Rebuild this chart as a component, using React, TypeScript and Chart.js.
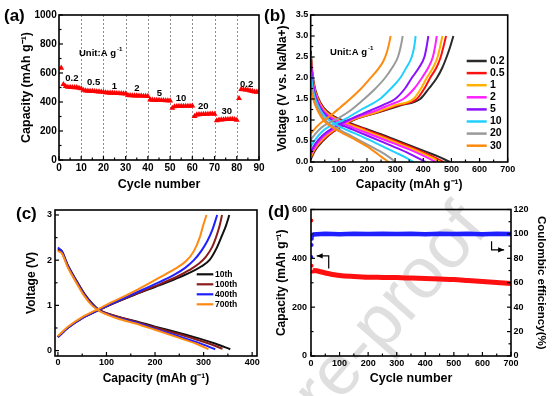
import React, { useEffect, useRef } from 'react';
import { Chart, registerables } from 'chart.js';

Chart.register(...registerables);

const FONT = "'Liberation Sans', Arial, Helvetica, sans-serif";

// ---------------- (a) rate performance ----------------
const rateCapacity = [
  635, 522, 508, 503, 502, 501, 500, 500, 496, 492,
  482, 478, 476, 475, 474, 473, 472, 471, 470, 468,
  465, 463, 462, 462, 461, 460, 460, 459, 458, 457,
  447, 445, 444, 443, 443, 442, 442, 441, 441, 440,
  416, 414, 413, 412, 412, 411, 411, 410, 410, 409,
  358, 368, 370, 371, 371, 372, 372, 372, 372, 373,
  302, 312, 314, 315, 316, 317, 317, 318, 318, 317,
  272, 277, 278, 279, 280, 280, 281, 281, 280, 275,
  425, 488, 486, 485, 482, 478, 474, 470, 469, 472,
];
const rateCycles = rateCapacity.map((_, i) => i + 1);
const rateNames = ['0.2', '0.5', '1', '2', '5', '10', '20', '30', '0.2'];
const rateNameX = [5.8, 15.6, 24.9, 35, 45.2, 54.9, 64.9, 75.5, 84.4];
const rateNameY = [560, 535, 510, 492, 462, 423, 372, 335, 525];
const rateBoundaries = [10, 20, 30, 40, 50, 60, 70, 80];
const aXTicks = [0, 10, 20, 30, 40, 50, 60, 70, 80, 90];
const aYTicks = [0, 200, 400, 600, 800, 1000];

// ---------------- (b) voltage profiles at different rates ----------------
const bRates = ['0.2', '0.5', '1', '2', '5', '10', '20', '30'];
const bColors = ['#2a2a2a', '#ff1010', '#ffb000', '#ff20ff', '#8a10ff', '#20d0ff', '#9a9a9a', '#ff8a10'];
const chg02 = [[0,0.06],[15,0.27],[40,0.48],[80,0.72],[152,1.0],[250,1.2],[320,1.35],[389,1.5],[420,1.75],[448,2.0],[468,2.25],[483,2.5],[496,2.75],[507,3.0]];
const chg05 = [[0,0.1],[15,0.3],[40,0.5],[80,0.73],[149,1.0],[245,1.2],[310,1.35],[377,1.5],[404,1.75],[424,2.0],[447,2.25],[462,2.5],[472,2.75],[481,3.0]];
const chg1 = [[0,0.12],[15,0.32],[40,0.53],[80,0.75],[146,1.0],[240,1.2],[300,1.35],[365,1.5],[392,1.75],[412,2.0],[435,2.25],[451,2.5],[460,2.75],[468,3.0]];
const chg2 = [[0,0.18],[15,0.36],[40,0.57],[80,0.78],[140,1.0],[230,1.22],[280,1.36],[329,1.5],[368,1.75],[395,2.0],[418,2.25],[434,2.5],[442,2.75],[448,3.0]];
const chg5 = [[0,0.24],[15,0.42],[40,0.62],[80,0.82],[134,1.0],[210,1.22],[258,1.36],[300,1.5],[335,1.75],[359,2.0],[385,2.25],[404,2.5],[412,2.75],[418,3.0]];
const chg10 = [[0,0.36],[15,0.52],[40,0.72],[70,0.86],[116,1.0],[180,1.25],[246,1.5],[285,1.75],[318,2.0],[340,2.25],[359,2.5],[368,2.75],[373,3.0]];
const chg20 = [[0,0.53],[15,0.66],[40,0.83],[70,0.95],[100,1.05],[140,1.22],[190,1.5],[230,1.75],[264,2.0],[290,2.25],[310,2.5],[320,2.75],[327,3.0]];
const chg30 = [[0,0.68],[20,0.83],[45,0.98],[75,1.13],[105,1.3],[140,1.5],[175,1.72],[210,1.98],[238,2.2],[258,2.4],[270,2.6],[278,2.8],[284,3.0]];
const dis02 = [[0,2.65],[5,2.2],[12,1.85],[25,1.55],[45,1.3],[75,1.12],[110,1.0],[150,0.9],[200,0.78],[250,0.66],[300,0.53],[350,0.4],[400,0.27],[450,0.14],[495,0.0]];
const dis05 = [[0,2.6],[5,2.15],[12,1.8],[25,1.52],[45,1.28],[75,1.1],[110,0.98],[150,0.88],[200,0.76],[250,0.63],[300,0.5],[350,0.37],[400,0.23],[440,0.11],[472,0.0]];
const dis1 = [[0,2.55],[5,2.1],[12,1.78],[25,1.5],[45,1.26],[75,1.08],[110,0.96],[150,0.86],[200,0.73],[250,0.6],[300,0.47],[350,0.34],[400,0.2],[435,0.09],[460,0.0]];
const dis2 = [[0,2.5],[5,2.05],[12,1.74],[25,1.46],[45,1.22],[75,1.05],[110,0.93],[150,0.82],[200,0.69],[250,0.56],[300,0.43],[350,0.3],[400,0.15],[445,0.0]];
const dis5 = [[0,2.45],[5,2.0],[12,1.7],[25,1.42],[45,1.18],[75,1.0],[110,0.88],[150,0.77],[200,0.63],[250,0.49],[300,0.35],[350,0.2],[408,0.0]];
const dis10 = [[0,2.15],[5,1.85],[12,1.6],[25,1.36],[45,1.12],[75,0.95],[110,0.82],[150,0.7],[200,0.55],[250,0.39],[300,0.23],[340,0.1],[365,0.0]];
const dis20 = [[0,1.87],[5,1.7],[12,1.5],[25,1.28],[45,1.05],[75,0.87],[110,0.74],[150,0.6],[200,0.42],[250,0.24],[280,0.11],[302,0.0]];
const dis30 = [[0,1.72],[5,1.6],[12,1.43],[25,1.22],[45,1.0],[75,0.83],[110,0.7],[150,0.56],[200,0.37],[240,0.18],[262,0.07],[277,0.0]];
const bCharge = [chg02, chg05, chg1, chg2, chg5, chg10, chg20, chg30];
const bDischarge = [dis02, dis05, dis1, dis2, dis5, dis10, dis20, dis30];
const bXTicks = [0, 100, 200, 300, 400, 500, 600, 700];
const bYTicks = [0, 0.5, 1, 1.5, 2, 2.5, 3, 3.5];

// ---------------- (c) voltage profiles at selected cycles ----------------
const cCycles = ['10th', '100th', '400th', '700th'];
const cColors = ['#111111', '#8b1c1c', '#2020ff', '#ff8a10'];
const cChg10 = [[0,0.3],[20,0.5],[50,0.72],[85,0.9],[105,1.0],[150,1.2],[210,1.45],[250,1.62],[275,1.74],[295,1.86],[312,2.0],[326,2.25],[338,2.55],[346,2.76],[353,3.0]];
const cChg100 = [[0,0.3],[20,0.5],[50,0.72],[85,0.9],[105,1.0],[150,1.21],[210,1.47],[248,1.65],[270,1.78],[290,1.92],[305,2.08],[318,2.3],[327,2.55],[333,2.76],[338,3.0]];
const cChg400 = [[0,0.3],[20,0.5],[50,0.72],[85,0.91],[105,1.01],[150,1.23],[210,1.52],[240,1.68],[262,1.83],[280,2.0],[295,2.2],[308,2.43],[318,2.67],[328,3.0]];
const cChg700 = [[0,0.32],[20,0.52],[50,0.74],[85,0.93],[105,1.04],[150,1.27],[210,1.62],[240,1.8],[264,1.98],[280,2.2],[292,2.5],[300,2.8],[306,3.0]];
const cDis10 = [[0,2.25],[8,2.2],[20,1.9],[38,1.55],[55,1.25],[70,1.05],[85,0.9],[123,0.75],[160,0.65],[200,0.53],[250,0.39],[290,0.27],[325,0.15],[355,0.03]];
const cDis100 = [[0,2.22],[8,2.17],[20,1.88],[38,1.54],[55,1.24],[70,1.04],[85,0.9],[123,0.75],[160,0.64],[200,0.51],[250,0.36],[290,0.23],[315,0.14],[339,0.04]];
const cDis400 = [[0,2.28],[8,2.2],[20,1.88],[38,1.52],[55,1.22],[70,1.02],[85,0.89],[123,0.73],[160,0.62],[200,0.48],[250,0.31],[290,0.17],[324,0.03]];
const cDis700 = [[0,2.2],[8,2.15],[20,1.85],[38,1.5],[55,1.2],[70,1.0],[85,0.88],[123,0.71],[160,0.6],[200,0.46],[250,0.28],[285,0.15],[310,0.03]];
const cCharge = [cChg10, cChg100, cChg400, cChg700];
const cDischarge = [cDis10, cDis100, cDis400, cDis700];
const cXTicks = [0, 100, 200, 300, 400];
const cYTicks = [0, 1, 2, 3];

// ---------------- (d) long cycling ----------------
const capEarlyCycles = [1, 2];
const capEarly = [555, 370];
const capCycles = [3, 5, 10, 20, 30, 50, 75, 100, 150, 200, 250, 300, 350, 400, 450, 500, 550, 600, 650, 700];
const capValues = [352, 348, 350, 349, 346, 340, 334, 330, 326, 323, 322, 321, 319, 317, 315, 313, 309, 305, 301, 297];
const ceEarlyCycles = [1, 2, 3, 4];
const ceEarly = [81, 91, 96, 98];
const ceCycles = [5, 50, 100, 150, 200, 250, 300, 350, 400, 450, 500, 550, 600, 650, 700];
const ceValues = [99.6, 100.1, 99.8, 100.2, 99.9, 100.1, 99.9, 100.2, 99.8, 100.1, 99.9, 100.1, 99.8, 100.1, 99.9];
const dXTicks = [0, 100, 200, 300, 400, 500, 600, 700];
const dYTicks = [0, 200, 400, 600];
const dY1Ticks = [0, 20, 40, 60, 80, 100, 120];

// ---------------- helpers ----------------
type Side = 'left' | 'right' | 'bottom';
type TextItem = { x: number; y: number; text: string; sup?: string; size: number; align?: CanvasTextAlign; yAxis?: string };
type Deco = {
  ticks: { id: string; side: Side }[];
  vlines?: number[];
  texts?: TextItem[];
  legend?: { x: number; y: number; lineLen: number; gap: number; step: number; size: number; lineWidth: number; items: { label: string; color: string }[] };
  arrows?: { pts: number[][]; yAxis: string }[];
};

function makeDeco(d: Deco) {
  return {
    id: 'deco',
    beforeDatasetsDraw(chart: any) {
      if (!d.vlines) return;
      const { ctx, chartArea: a, scales } = chart;
      ctx.save();
      ctx.strokeStyle = '#8c8c8c';
      ctx.lineWidth = 1;
      ctx.setLineDash([2, 2]);
      d.vlines.forEach((v) => {
        const px = Math.round(scales.x.getPixelForValue(v)) + 0.5;
        ctx.beginPath();
        ctx.moveTo(px, a.top);
        ctx.lineTo(px, a.bottom);
        ctx.stroke();
      });
      ctx.restore();
    },
    afterDatasetsDraw(chart: any) {
      const { ctx, chartArea: a, scales } = chart;
      ctx.save();
      ctx.setLineDash([]);
      ctx.strokeStyle = '#000';
      ctx.lineWidth = 1.6;
      ctx.strokeRect(a.left, a.top, a.right - a.left, a.bottom - a.top);
      ctx.lineWidth = 1.2;
      d.ticks.forEach((t) => {
        const s = scales[t.id];
        const vals: number[] = s.ticks.map((k: any) => k.value);
        const marks: number[][] = vals.map((v) => [v, 4]);
        for (let i = 0; i < vals.length - 1; i++) marks.push([(vals[i] + vals[i + 1]) / 2, 2.5]);
        marks.forEach(([v, len]) => {
          const p = s.getPixelForValue(v);
          ctx.beginPath();
          if (t.side === 'bottom') { ctx.moveTo(p, a.bottom); ctx.lineTo(p, a.bottom - len); }
          else if (t.side === 'left') { ctx.moveTo(a.left, p); ctx.lineTo(a.left + len, p); }
          else { ctx.moveTo(a.right, p); ctx.lineTo(a.right - len, p); }
          ctx.stroke();
        });
      });
      (d.texts || []).forEach((t) => {
        const px = scales.x.getPixelForValue(t.x);
        const py = scales[t.yAxis || 'y'].getPixelForValue(t.y);
        ctx.fillStyle = '#000';
        ctx.font = `bold ${t.size}px ${FONT}`;
        ctx.textBaseline = 'middle';
        ctx.textAlign = t.align || 'center';
        ctx.fillText(t.text, px, py);
        if (t.sup) {
          const w = ctx.measureText(t.text).width;
          ctx.font = `bold ${t.size * 0.65}px ${FONT}`;
          ctx.textAlign = 'left';
          ctx.fillText(t.sup, px + w + 1, py - t.size * 0.38);
        }
      });
      if (d.legend) {
        const L = d.legend;
        L.items.forEach((it, i) => {
          const y = L.y + i * L.step;
          ctx.strokeStyle = it.color;
          ctx.lineWidth = L.lineWidth;
          ctx.beginPath();
          ctx.moveTo(L.x, y);
          ctx.lineTo(L.x + L.lineLen, y);
          ctx.stroke();
          ctx.fillStyle = '#000';
          ctx.font = `bold ${L.size}px ${FONT}`;
          ctx.textAlign = 'left';
          ctx.textBaseline = 'middle';
          ctx.fillText(it.label, L.x + L.lineLen + L.gap, y);
        });
      }
      (d.arrows || []).forEach((ar) => {
        const pts = ar.pts.map(([x, y]) => [scales.x.getPixelForValue(x), scales[ar.yAxis].getPixelForValue(y)]);
        ctx.strokeStyle = '#000';
        ctx.lineWidth = 1.2;
        ctx.beginPath();
        pts.forEach(([x, y], i) => (i ? ctx.lineTo(x, y) : ctx.moveTo(x, y)));
        ctx.stroke();
        const [x1, y1] = pts[pts.length - 2];
        const [x2, y2] = pts[pts.length - 1];
        const ang = Math.atan2(y2 - y1, x2 - x1);
        const hl = 6, hw = 2.6;
        ctx.fillStyle = '#000';
        ctx.beginPath();
        ctx.moveTo(x2, y2);
        ctx.lineTo(x2 - hl * Math.cos(ang) + hw * Math.sin(ang), y2 - hl * Math.sin(ang) - hw * Math.cos(ang));
        ctx.lineTo(x2 - hl * Math.cos(ang) - hw * Math.sin(ang), y2 - hl * Math.sin(ang) + hw * Math.cos(ang));
        ctx.closePath();
        ctx.fill();
      });
      ctx.restore();
    },
  };
}

function lin(o: {
  position: Side; min: number; max: number; ticks: number[]; size: number; pad: number;
  fontSize: number; title: string; titleSize: number; tpad: number; fmt?: (v: number) => string;
}) {
  const horiz = o.position === 'bottom';
  return {
    type: 'linear',
    position: o.position,
    min: o.min,
    max: o.max,
    afterBuildTicks: (s: any) => { s.ticks = o.ticks.map((v) => ({ value: v })); },
    afterFit: (s: any) => { if (horiz) s.height = o.size; else s.width = o.size; },
    grid: { display: false, drawTicks: false },
    border: { display: false },
    ticks: {
      color: '#000', autoSkip: false, maxRotation: 0, minRotation: 0, padding: o.pad,
      font: { family: FONT, size: o.fontSize, weight: 'bold' },
      callback: (v: any) => (o.fmt ? o.fmt(Number(v)) : String(v)),
    },
    title: {
      display: true, text: o.title, color: '#000',
      font: { family: FONT, size: o.titleSize, weight: 'bold', lineHeight: 1.2 },
      padding: { top: o.tpad, bottom: o.tpad },
    },
  };
}

const basePlugins = { legend: { display: false }, tooltip: { enabled: false } };
const toXY = (arr: number[][]) => arr.map(([x, y]) => ({ x, y }));

function configA() {
  return {
    type: 'scatter',
    data: {
      datasets: [{
        data: rateCycles.map((c, i) => ({ x: c, y: rateCapacity[i] })),
        pointStyle: 'triangle', pointRadius: 3.4, backgroundColor: '#ff0000', borderColor: '#ff0000', borderWidth: 0, showLine: false,
      }],
    },
    options: {
      responsive: false, animation: false, events: [],
      layout: { padding: { left: 0, top: 15, right: 11, bottom: 0 } },
      plugins: basePlugins,
      scales: {
        x: lin({ position: 'bottom', min: 0, max: 90, ticks: aXTicks, size: 38, pad: 2, fontSize: 10, title: 'Cycle number', titleSize: 12.5, tpad: 5.8 }),
        y: lin({ position: 'left', min: 0, max: 1000, ticks: aYTicks, size: 59, pad: 2.3, fontSize: 10, title: 'Capacity (mAh g⁻¹)', titleSize: 12.5, tpad: 18.8 }),
      },
    },
    plugins: [makeDeco({
      ticks: [{ id: 'x', side: 'bottom' }, { id: 'y', side: 'left' }],
      vlines: rateBoundaries,
      texts: [
        ...rateNames.map((t, i) => ({ x: rateNameX[i], y: rateNameY[i], text: t, size: 9.5 })),
        { x: 9, y: 736, text: 'Unit:A g', sup: '-1', size: 9.5, align: 'left' as CanvasTextAlign },
      ],
    })],
  };
}

function configB() {
  const ds: any[] = [];
  for (let i = bRates.length - 1; i >= 0; i--) {
    [bCharge[i], bDischarge[i]].forEach((curve) => ds.push({
      data: toXY(curve), showLine: true, borderColor: bColors[i], borderWidth: 2, pointRadius: 0, cubicInterpolationMode: 'monotone',
    }));
  }
  return {
    type: 'scatter',
    data: { datasets: ds },
    options: {
      responsive: false, animation: false, events: [],
      layout: { padding: { left: 0, top: 15, right: 45.3, bottom: 0 } },
      plugins: basePlugins,
      scales: {
        x: lin({ position: 'bottom', min: 0, max: 700, ticks: bXTicks, size: 36, pad: 2.6, fontSize: 9, title: 'Capacity (mAh g⁻¹)', titleSize: 12, tpad: 5.8 }),
        y: lin({ position: 'left', min: 0, max: 3.5, ticks: bYTicks, size: 40.7, pad: 2.4, fontSize: 9, title: 'Voltage (V vs. Na/Na+)', titleSize: 12, tpad: 5.5, fmt: (v) => v.toFixed(1) }),
      },
    },
    plugins: [makeDeco({
      ticks: [{ id: 'x', side: 'bottom' }, { id: 'y', side: 'left' }],
      texts: [{ x: 69, y: 2.62, text: 'Unit:A g', sup: '-1', size: 9.5, align: 'left' as CanvasTextAlign }],
      legend: { x: 196.7, y: 61, lineLen: 20, gap: 3.3, step: 12.1, size: 10.5, lineWidth: 2.5, items: bRates.map((r, i) => ({ label: r, color: bColors[i] })) },
    })],
  };
}

function configC() {
  const ds: any[] = [];
  for (let i = cCycles.length - 1; i >= 0; i--) {
    [cCharge[i], cDischarge[i]].forEach((curve) => ds.push({
      data: toXY(curve), showLine: true, borderColor: cColors[i], borderWidth: 2, pointRadius: 0, cubicInterpolationMode: 'monotone',
    }));
  }
  return {
    type: 'scatter',
    data: { datasets: ds },
    options: {
      responsive: false, animation: false, events: [],
      layout: { padding: { left: 0, top: 12, right: 13, bottom: 0 } },
      plugins: basePlugins,
      scales: {
        x: lin({ position: 'bottom', min: -6, max: 410, ticks: cXTicks, size: 40, pad: 1.5, fontSize: 9, title: 'Capacity (mAh g⁻¹)', titleSize: 12, tpad: 10.5 }),
        y: lin({ position: 'left', min: -0.12, max: 3.11, ticks: cYTicks, size: 55, pad: 3, fontSize: 9, title: 'Voltage (V)', titleSize: 12, tpad: 24.5 }),
      },
    },
    plugins: [makeDeco({
      ticks: [{ id: 'x', side: 'bottom' }, { id: 'y', side: 'left' }],
      legend: { x: 196.7, y: 76.3, lineLen: 16.6, gap: 1.7, step: 10, size: 8.5, lineWidth: 2.2, items: cCycles.map((r, i) => ({ label: r, color: cColors[i] })) },
    })],
  };
}

function configD() {
  return {
    type: 'scatter',
    data: {
      datasets: [
        { yAxisID: 'y1', data: ceCycles.map((c, i) => ({ x: c, y: ceValues[i] })), showLine: true, borderColor: '#1f1fff', borderWidth: 4.5, pointRadius: 0 },
        { yAxisID: 'y1', data: ceEarlyCycles.map((c, i) => ({ x: c, y: ceEarly[i] })), pointRadius: 2, backgroundColor: '#1f1fff', borderWidth: 0 },
        { yAxisID: 'y', data: capCycles.map((c, i) => ({ x: c, y: capValues[i] })), showLine: true, borderColor: '#ff1010', borderWidth: 5, pointRadius: 0, cubicInterpolationMode: 'monotone' },
        { yAxisID: 'y', data: capEarlyCycles.map((c, i) => ({ x: c, y: capEarly[i] })), pointRadius: 2, backgroundColor: '#ff1010', borderWidth: 0 },
      ],
    },
    options: {
      responsive: false, animation: false, events: [],
      layout: { padding: { left: 0, top: 11.5, right: 0, bottom: 0 } },
      plugins: basePlugins,
      scales: {
        x: lin({ position: 'bottom', min: 0, max: 700, ticks: dXTicks, size: 40, pad: 2, fontSize: 9, title: 'Cycle number', titleSize: 12.5, tpad: 9.8 }),
        y: lin({ position: 'left', min: 0, max: 600, ticks: dYTicks, size: 41, pad: 4, fontSize: 9, title: 'Capacity (mAh g⁻¹)', titleSize: 12, tpad: 4.5 }),
        y1: lin({ position: 'right', min: 0, max: 120, ticks: dY1Ticks, size: 42, pad: 2.6, fontSize: 9, title: 'Coulombic efficiency(%)', titleSize: 11.5, tpad: 5.1 }),
      },
    },
    plugins: [makeDeco({
      ticks: [{ id: 'x', side: 'bottom' }, { id: 'y', side: 'left' }, { id: 'y1', side: 'right' }],
      arrows: [
        { yAxis: 'y', pts: [[62, 358], [62, 410], [20, 410]] },
        { yAxis: 'y1', pts: [[632, 94], [632, 87], [676, 87]] },
      ],
    })],
  };
}

function Panel(props: { left: number; top: number; width: number; height: number; make: () => any }) {
  const ref = useRef<HTMLCanvasElement>(null);
  useEffect(() => {
    const chart = new Chart(ref.current as HTMLCanvasElement, props.make() as any);
    return () => chart.destroy();
  }, []);
  return (
    <canvas
      ref={ref}
      width={props.width}
      height={props.height}
      style={{ position: 'absolute', left: props.left, top: props.top, width: props.width, height: props.height }}
    />
  );
}

const labelStyle = (left: number, top: number): React.CSSProperties => ({
  position: 'absolute', left, top, font: `bold 17px ${FONT}`, lineHeight: '17px', color: '#000', whiteSpace: 'nowrap',
});

export default function App() {
  return (
    <div style={{ position: 'absolute', left: 0, top: 0, width: 553, height: 396, overflow: 'hidden', background: '#fff' }}>
      <div style={{ position: 'absolute', left: 388, top: 309, transform: 'rotate(-49deg)', zIndex: 0 }}>
        <span style={{ position: 'absolute', left: 0, top: 0, transform: 'translate(-50%, -50%)', whiteSpace: 'nowrap', font: `72px ${FONT}`, lineHeight: '72px', color: '#dfdfdf' }}>
          <span style={{ position: 'absolute', right: '100%', top: 0 }}>Journal P</span>re-proof
        </span>
      </div>
      <Panel left={0} top={0} width={270} height={198} make={configA} />
      <Panel left={270} top={0} width={283} height={198} make={configB} />
      <Panel left={0} top={198} width={270} height={198} make={configC} />
      <Panel left={270} top={198} width={283} height={198} make={configD} />
      <div style={labelStyle(4, 7)}>(a)</div>
      <div style={labelStyle(264, 7)}>(b)</div>
      <div style={labelStyle(16, 205)}>(c)</div>
      <div style={labelStyle(268, 203)}>(d)</div>
    </div>
  );
}
